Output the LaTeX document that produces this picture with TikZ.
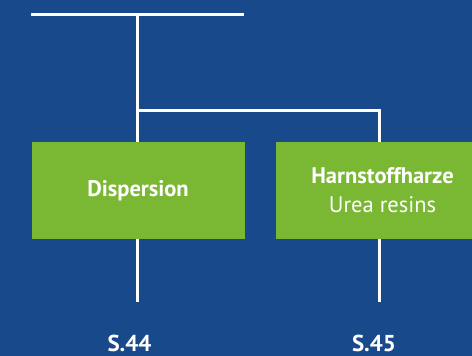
\documentclass[tikz,border=0pt]{standalone}
\usepackage{fontspec}
\setmainfont{PT Sans}
\definecolor{bgblue}{RGB}{24,74,139}
\definecolor{boxgreen}{RGB}{122,184,52}
\begin{document}
\begin{tikzpicture}[x=1pt,y=-1pt,
  wire/.style={draw=white,line width=3pt},
  catbox/.style={fill=boxgreen,minimum width=213pt,minimum height=97pt,inner sep=0pt,
    text=white,font=\fontsize{22.5}{29}\selectfont,align=center},
  pageref/.style={text=white,font=\bfseries\fontsize{23}{28}\selectfont,inner sep=0pt}]
  \fill[bgblue] (0,0) rectangle (472,356);
  \useasboundingbox (0,0) rectangle (472,356);
  \clip (0,0) rectangle (472,356);

  % junction points of the tree
  \coordinate (tl) at (31,14);
  \coordinate (tr) at (244,14);
  \coordinate (top) at (137.5,14);
  \coordinate (fork) at (137.5,110);
  \coordinate (forkr) at (379.5,110);
  \coordinate (end1) at (137.5,302);
  \coordinate (end2) at (379.5,302);

  % category boxes
  \node[catbox] (disp) at (138,190.5) {\bfseries Dispersion};
  \node[catbox] (harn) at (382.5,190.5) {\bfseries Harnstoffharze\\Urea resins};

  % page references
  \node[pageref] (p44) at (129.5,343) {S.44};
  \node[pageref] (p45) at (374,343) {S.45};

  % connectors
  \draw[wire] (tl) -- (tr);
  \draw[wire] (top) -- (top |- disp.north);
  \draw[wire] (fork) -- (forkr) -- (forkr |- harn.north);
  \draw[wire] (top |- disp.south) -- (end1);
  \draw[wire] (forkr |- harn.south) -- (end2);
\end{tikzpicture}
\end{document}
